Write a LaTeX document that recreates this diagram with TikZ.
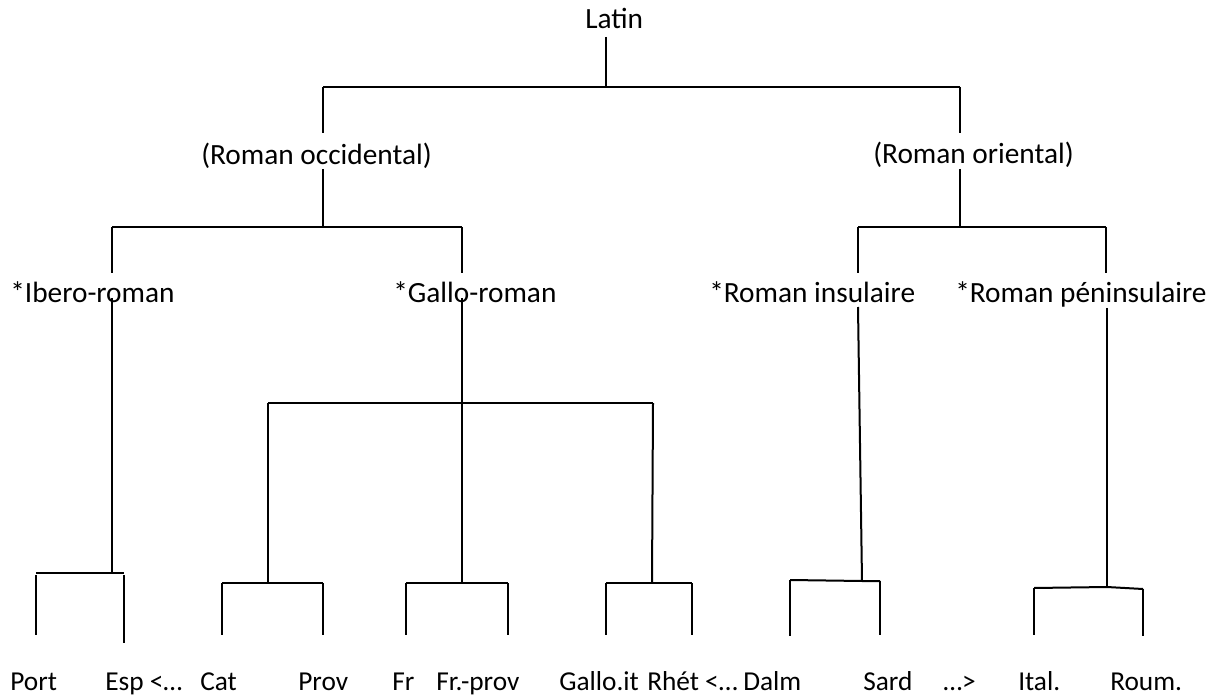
\documentclass[tikz,border=0pt]{standalone}
\usepackage{fontspec}
\setmainfont{Carlito}
\begin{document}
\begin{tikzpicture}[x=0.75pt,y=-0.75pt,
  lbl/.style={inner sep=0pt, anchor=base west, font=\fontsize{22}{26}\selectfont},
  leaf/.style={inner sep=0pt, anchor=base west, font=\fontsize{20.5}{24}\selectfont},
  edge/.style={line width=1.5pt, line cap=butt}]
\useasboundingbox (0,0) rectangle (1217,695);

% ---- labels ----
\node[lbl] (latin) at (585,29) {Latin};
\node[lbl] (occ) at (201,165) {(Roman occidental)};
\node[lbl] (ori) at (873,164) {(Roman oriental)};
\node[lbl] (ibero) at (10,302) {*Ibero-roman};
\node[lbl] (gallo) at (393,302) {*Gallo-roman};
\node[lbl] (insul) at (709,302) {*Roman insulaire};
\node[lbl] (penin) at (955,302) {*Roman péninsulaire};

\node[leaf] (port) at (10,690) {Port};
\node[leaf] (esp)  at (105,690) {Esp <…};
\node[leaf] (cat)  at (200,690) {Cat};
\node[leaf] (prov) at (298,690) {Prov};
\node[leaf] (fr)   at (392,690) {Fr};
\node[leaf] (frp)  at (436,690) {Fr.-prov};
\node[leaf] (gait) at (559,690) {Gallo.it};
\node[leaf] (rhet) at (647,690) {Rhét <…};
\node[leaf] (dalm) at (743,690) {Dalm};
\node[leaf] (sard) at (863,690) {Sard};
\node[leaf] (dots) at (943,690) {…>};
\node[leaf] (ital) at (1018,690) {Ital.};
\node[leaf] (roum) at (1110,690) {Roum.};

% ---- junction points ----
\coordinate (t0) at (606,37);   \coordinate (t1) at (606,87);
\coordinate (occA) at (323,87); \coordinate (oriA) at (960,87);
\coordinate (occB) at (323,133); \coordinate (oriB) at (960,133);
\coordinate (occC) at (323,169); \coordinate (occD) at (323,227);
\coordinate (oriC) at (960,169); \coordinate (oriD) at (960,227);

\coordinate (ibA) at (112,227);  \coordinate (gaA) at (462,227);
\coordinate (insA) at (858,227); \coordinate (penA) at (1106,227);
\coordinate (ibB) at (112,273);  \coordinate (gaB) at (462,273);
\coordinate (insB) at (858,273); \coordinate (penB) at (1106,273);

\coordinate (ibC) at (112,298);  \coordinate (ibD) at (112,573);
\coordinate (gaC) at (462,298);  \coordinate (gaD) at (462,583);
\coordinate (insC) at (858,307); \coordinate (insD) at (862,581);
\coordinate (penC) at (1107,308); \coordinate (penD) at (1107,587);

\coordinate (catM) at (268,403); \coordinate (gitM) at (653,403);
\coordinate (catJ) at (268,583); \coordinate (gitJ) at (652,583);

\coordinate (ptA) at (36,573);   \coordinate (esA) at (124,573);
\coordinate (ptB) at (36,575);   \coordinate (ptE) at (36,635);
\coordinate (esB) at (124,575);  \coordinate (esE) at (124,643);

\coordinate (catA) at (222,583); \coordinate (catE) at (222,635);
\coordinate (prA) at (323,583);  \coordinate (prE) at (323,635);
\coordinate (frA) at (406,583);  \coordinate (frE) at (406,635);
\coordinate (fpA) at (508,583);  \coordinate (fpE) at (508,635);
\coordinate (giA) at (606,583);  \coordinate (giE) at (606,635);
\coordinate (rhA) at (692,583);  \coordinate (rhE) at (692,635);
\coordinate (daA) at (790,580);  \coordinate (daE) at (790,636);
\coordinate (saA) at (880,581);  \coordinate (saE) at (880,635);
\coordinate (itA) at (1034,588); \coordinate (itE) at (1034,635);
\coordinate (roA) at (1143,589); \coordinate (roE) at (1143,636);

% ---- Latin -> two branches ----
\draw[edge] (t0) -- (t1);
\draw[edge] (occA) -- (oriA);
\draw[edge] (occA) -- (occB);
\draw[edge] (oriA) -- (oriB);

% ---- Roman occidental / oriental ----
\draw[edge] (occC) -- (occD);
\draw[edge] (ibA) -- (gaA);
\draw[edge] (ibA) -- (ibB);
\draw[edge] (gaA) -- (gaB);

\draw[edge] (oriC) -- (oriD);
\draw[edge] (insA) -- (penA);
\draw[edge] (insA) -- (insB);
\draw[edge] (penA) -- (penB);

% ---- stems below the third row ----
\draw[edge] (ibC) -- (ibD);
\draw[edge] (gaC) -- (gaD);
\draw[edge] (insC) -- (insD);
\draw[edge] (penC) -- (penD);

% ---- Gallo-roman split ----
\draw[edge] (catM) -- (gitM);
\draw[edge] (catM) -- (catJ);
\draw[edge] (gitM) -- (gitJ);

% ---- leaves ----
\draw[edge] (ptA) -- (esA);
\draw[edge] (ptB) -- (ptE);
\draw[edge] (esB) -- (esE);

\draw[edge] (catA) -- (prA);
\draw[edge] (catA) -- (catE);
\draw[edge] (prA) -- (prE);

\draw[edge] (frA) -- (fpA);
\draw[edge] (frA) -- (frE);
\draw[edge] (fpA) -- (fpE);

\draw[edge] (giA) -- (rhA);
\draw[edge] (giA) -- (giE);
\draw[edge] (rhA) -- (rhE);

\draw[edge] (daA) -- (insD) -- (saA);
\draw[edge] (daA) -- (daE);
\draw[edge] (saA) -- (saE);

\draw[edge] (itA) -- (penD) -- (roA);
\draw[edge] (itA) -- (itE);
\draw[edge] (roA) -- (roE);
\end{tikzpicture}
\end{document}
